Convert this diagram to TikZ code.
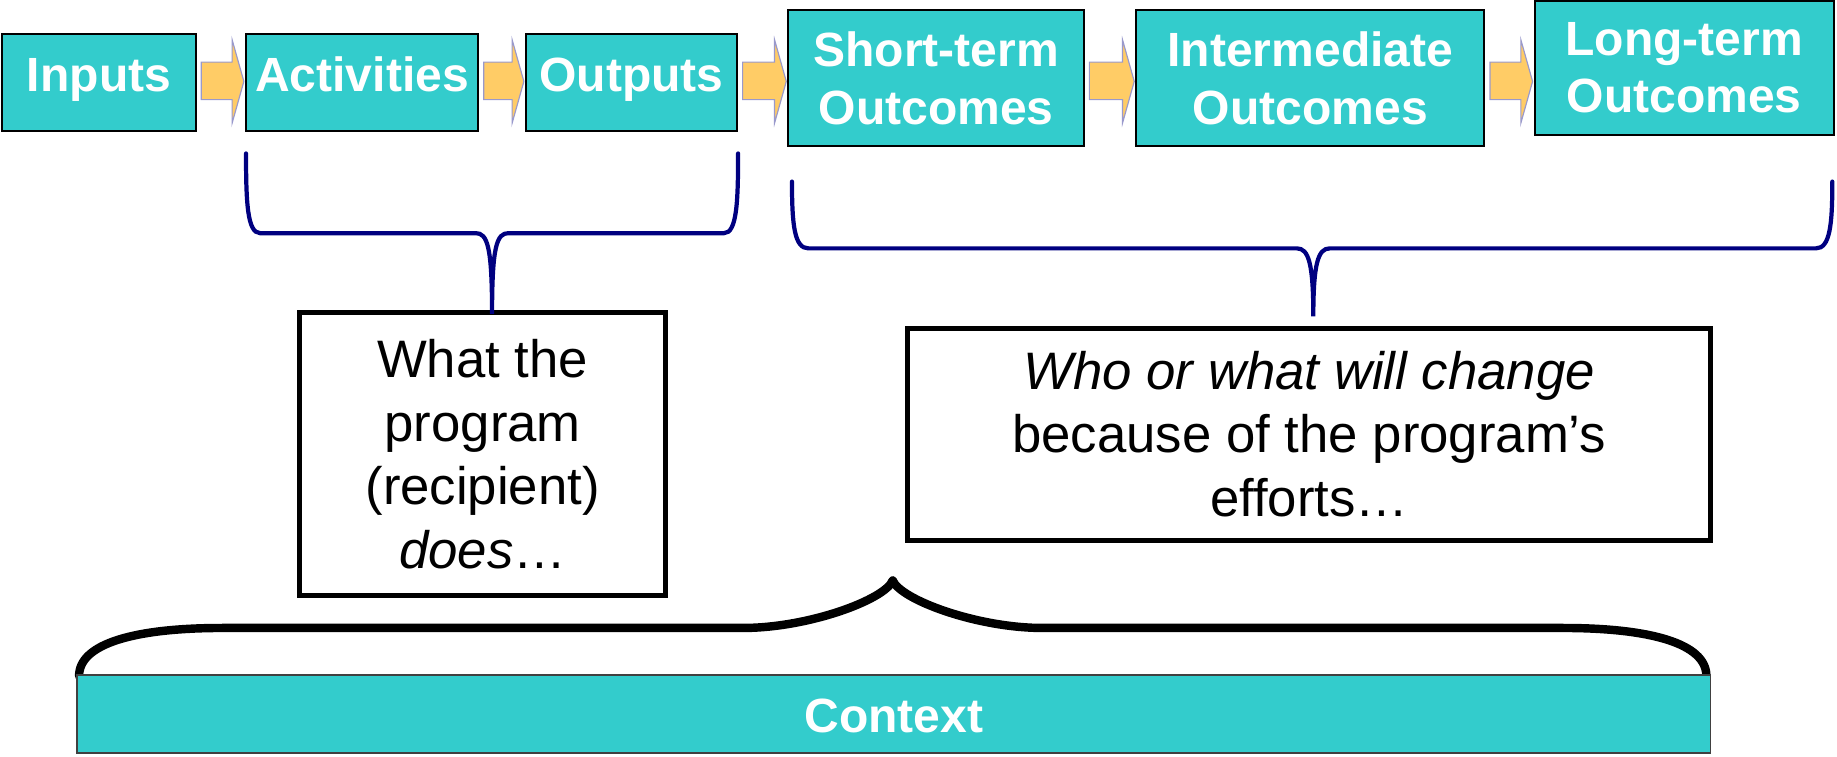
\documentclass[tikz,border=0pt]{standalone}
\usepackage{fontspec}
\setmainfont{Liberation Sans}
\usetikzlibrary{calc}
\definecolor{boxteal}{HTML}{33CCCC}
\definecolor{arrowfill}{HTML}{FFCC66}
\definecolor{arrowline}{HTML}{9999CC}
\definecolor{bracenavy}{HTML}{000080}
\newcommand\blockarrow[2]{%
  \filldraw[arrowsty] let \p1=(#1.east), \p2=(#2.west) in
    (\x1+4,53) -- (\x2-11,53) -- (\x2-11,34) -- (\x2-1,69.5) -- (\x2-11,105)
    -- (\x2-11,85) -- (\x1+4,85) -- cycle;}
\begin{document}
\begin{tikzpicture}[x=1pt,y=-1pt,
  topbox/.style={draw=black, line width=1.7pt, fill=boxteal, text=white, inner sep=0pt,
    font=\fontsize{41}{49}\selectfont\bfseries, align=center},
  oneline/.style={text height=29.5pt, text depth=14.5pt},
  textbox/.style={draw=black, line width=4.3pt, fill=white, inner sep=0pt,
    font=\fontsize{45}{54.3}\selectfont, align=center},
  arrowsty/.style={fill=arrowfill, draw=arrowline, line width=1pt},
  navybrace/.style={draw=bracenavy, line width=3.6pt, line cap=round},
  bigbrace/.style={draw=black, line width=7.2pt, line cap=round},
  ctxbar/.style={draw=black!75, line width=1.5pt, fill=boxteal, text=white, inner sep=0pt,
    font=\fontsize{41}{49}\selectfont\bfseries, text height=31pt, text depth=0pt}]
\useasboundingbox (0,0) rectangle (1568,646);

% top chain
\node[topbox, oneline, minimum width=165, minimum height=83] (inputs) at (84.5,70.5) {Inputs};
\node[topbox, oneline, minimum width=198, minimum height=83] (activities) at (309,70.5) {Activities};
\node[topbox, oneline, minimum width=180, minimum height=83] (outputs) at (539,70.5) {Outputs};
\node[topbox, minimum width=252, minimum height=116.5] (short) at (799,66.75) {Short-term\\Outcomes};
\node[topbox, minimum width=297, minimum height=116.5] (inter) at (1118.5,66.75) {Intermediate\\Outcomes};
\node[topbox, minimum width=255, minimum height=114] (long) at (1437.5,58) {Long-term\\Outcomes};

\blockarrow{inputs}{activities}
\blockarrow{activities}{outputs}
\blockarrow{outputs}{short}
\blockarrow{short}{inter}
\blockarrow{inter}{long}

% explanation boxes
\node[textbox, minimum width=312, minimum height=241] (does) at (412,387.5)
  {What the\\program\\(recipient)\\\textit{does}…};
\node[textbox, minimum width=685, minimum height=181] (change) at (1117.5,370.5)
  {\textit{Who or what will change}\\because of the program’s\\efforts…};

% navy braces
\coordinate (b1l) at (210,131);
\coordinate (b1r) at (630,131);
\coordinate (b1tip) at (420,268);
\draw[navybrace] (b1l) .. controls (210,172) and (211,199) .. (222,199) -- (406,199)
  .. controls (416,199) and (420,210) .. (b1tip)
  .. controls (420,210) and (424,199) .. (434,199) -- (618,199)
  .. controls (629,199) and (630,172) .. (b1r);
\coordinate (b2l) at (676,155);
\coordinate (b2r) at (1564,155);
\coordinate (b2tip) at (1121,270);
\draw[navybrace] (b2l) .. controls (676,192) and (678,212) .. (690,212) -- (1107,212)
  .. controls (1117,212) and (1121,225) .. (b2tip)
  .. controls (1121,225) and (1125,212) .. (1135,212) -- (1550,212)
  .. controls (1562,212) and (1564,192) .. (b2r);

% big brace over the context bar
\coordinate (bbl) at (67.5,577);
\coordinate (bbr) at (1456.5,577);
\coordinate (bbtip) at (762,495.5);
\draw[bigbrace] (bbl) .. controls (67.5,549) and (116,536) .. (190,536) -- (634,536)
  .. controls (690,536) and (755,512) .. (bbtip);
\draw[bigbrace] (bbr) .. controls (1456.5,549) and (1408,536) .. (1334,536) -- (890,536)
  .. controls (834,536) and (769,512) .. (bbtip);

% context bar
\node[ctxbar, minimum width=1394, minimum height=67] (context) at (763,609.5) {Context};
\end{tikzpicture}
\end{document}
